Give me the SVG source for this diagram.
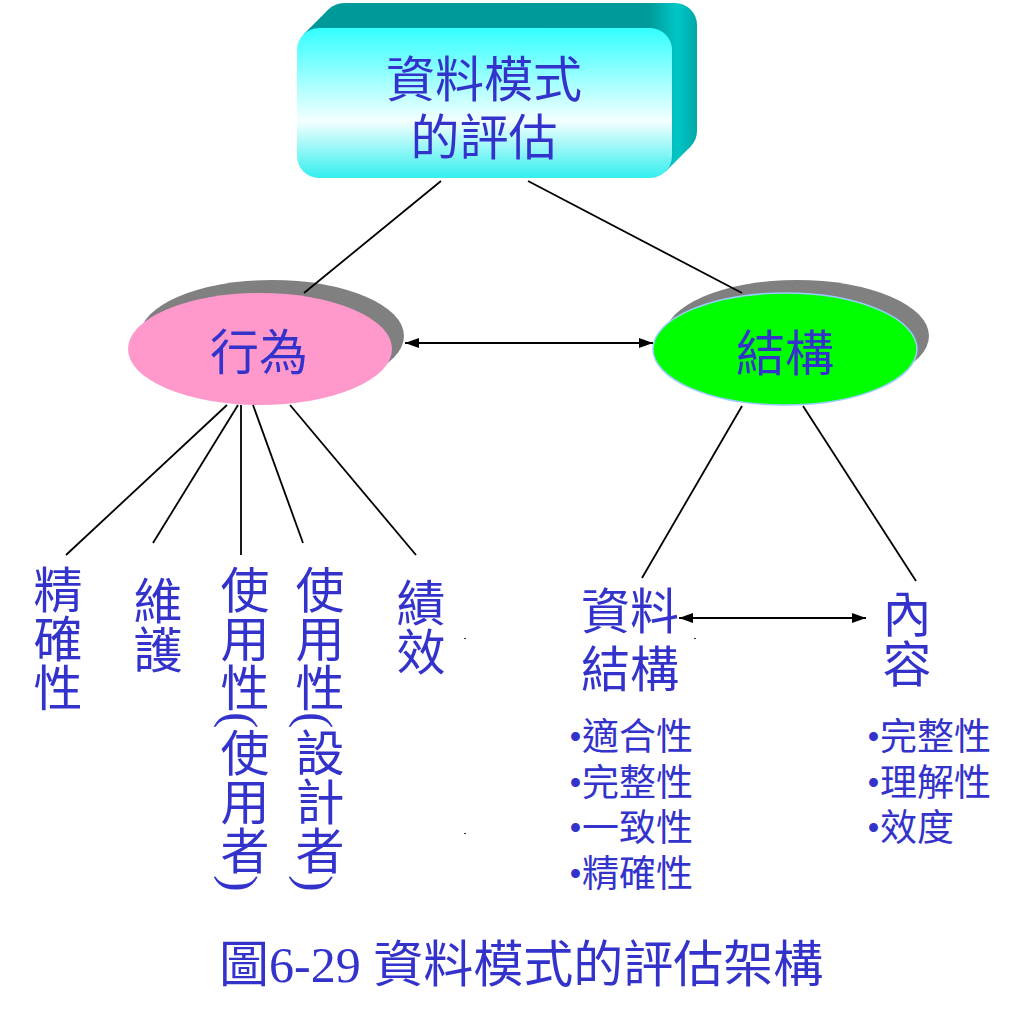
<svg xmlns="http://www.w3.org/2000/svg" width="1018" height="1021" viewBox="0 0 1018 1021">
<style>
.t{font-family:"Liberation Serif","Noto Sans CJK TC",serif;fill:#3333cc;}
.big{font-size:49px;}
.cap{font-size:50px;}
.small{font-size:37px;}
.v{font-size:49px;writing-mode:vertical-rl;text-orientation:mixed;}
.ln{stroke:#000;stroke-width:1.8;fill:none;}
.arr{stroke:#000;stroke-width:1.8;fill:none;marker-start:url(#ah);marker-end:url(#ah);}
</style>
<defs>
<linearGradient id="face" x1="0" y1="0" x2="0" y2="1">
<stop offset="0" stop-color="#33ffff"/>
<stop offset="0.62" stop-color="#f4ffff"/>
<stop offset="1" stop-color="#33eeee"/>
</linearGradient>
<linearGradient id="ext" x1="297" y1="0" x2="697" y2="0" gradientUnits="userSpaceOnUse">
<stop offset="0" stop-color="#009999"/>
<stop offset="0.88" stop-color="#009a9a"/>
<stop offset="0.95" stop-color="#00c6c6"/>
<stop offset="1" stop-color="#00a8a8"/>
</linearGradient>
<marker id="ah" viewBox="0 0 14 10" refX="14" refY="5" markerWidth="14" markerHeight="10" markerUnits="userSpaceOnUse" orient="auto-start-reverse">
<path d="M0,0 L14,5 L0,10 Z" fill="#000"/>
</marker>
</defs>
<rect width="1018" height="1021" fill="#fff"/>

<g id="node-top">
<rect x="322" y="3" width="375" height="150" rx="22" fill="url(#ext)"/>
<polygon points="303.4,34.4 328.4,9.4 690.6,146.6 665.6,171.6" fill="url(#ext)"/>
<rect x="297" y="28" width="375" height="150" rx="22" fill="url(#face)"/>
<text class="t big" x="484" y="97" text-anchor="middle">資料模式</text>
<text class="t big" x="484" y="155" text-anchor="middle">的評估</text>
</g>

<g id="node-behavior">
<ellipse cx="272" cy="336" rx="132" ry="56" fill="#808080"/>
<ellipse cx="260" cy="349" rx="132" ry="56" fill="#ff99cc"/>
<text class="t big" x="259" y="370" text-anchor="middle">行為</text>
</g>

<g id="node-structure">
<ellipse cx="797" cy="336" rx="132" ry="56" fill="#808080"/>
<ellipse cx="785" cy="349" rx="132" ry="56" fill="#00ff00" stroke="#99ccff" stroke-width="1.5"/>
<text class="t big" x="785" y="371" text-anchor="middle">結構</text>
</g>

<g id="node-accuracy"><text class="t v" x="53" y="565">精確性</text></g>
<g id="node-maintain"><text class="t v" x="153" y="576">維護</text></g>
<g id="node-usability-user"><text class="t v" x="240" y="565">使用性(使用者)</text></g>
<g id="node-usability-designer"><text class="t v" x="315" y="565">使用性(設計者)</text></g>
<g id="node-performance"><text class="t v" x="416" y="578">績效</text></g>

<g id="node-datastructure">
<text class="t big" x="630" y="629" text-anchor="middle">資料</text>
<text class="t big" x="630" y="687" text-anchor="middle">結構</text>
<text class="t small" x="569" y="750">•適合性</text>
<text class="t small" x="569" y="796">•完整性</text>
<text class="t small" x="569" y="841">•一致性</text>
<text class="t small" x="569" y="887">•精確性</text>
</g>

<g id="node-content">
<text class="t big" x="907" y="632" text-anchor="middle">內</text>
<text class="t big" x="907" y="682" text-anchor="middle">容</text>
<text class="t small" x="867" y="750">•完整性</text>
<text class="t small" x="867" y="796">•理解性</text>
<text class="t small" x="867" y="841">•效度</text>
</g>

<g id="connectors">
<line class="ln" x1="441" y1="181" x2="304" y2="293"/>
<line class="ln" x1="528" y1="181" x2="742" y2="293"/>
<line class="ln" x1="227" y1="405" x2="66" y2="555"/>
<line class="ln" x1="238" y1="405" x2="153" y2="543"/>
<line class="ln" x1="241" y1="405" x2="241" y2="555"/>
<line class="ln" x1="253" y1="405" x2="303" y2="543"/>
<line class="ln" x1="290" y1="405" x2="416" y2="555"/>
<line class="ln" x1="742" y1="406" x2="642" y2="578"/>
<line class="ln" x1="803" y1="406" x2="916" y2="581"/>
<line class="arr" x1="405" y1="343" x2="653" y2="343"/>
<line class="arr" x1="679" y1="618" x2="866" y2="618"/>
</g>

<g id="marks" fill="#333">
<rect x="464" y="638" width="2" height="1"/>
<rect x="464" y="833" width="2" height="1"/>
<rect x="694" y="638" width="2" height="1"/>
</g>

<g id="caption">
<text class="t cap" x="219" y="982">圖6-29 資料模式的評估架構</text>
</g>
</svg>
